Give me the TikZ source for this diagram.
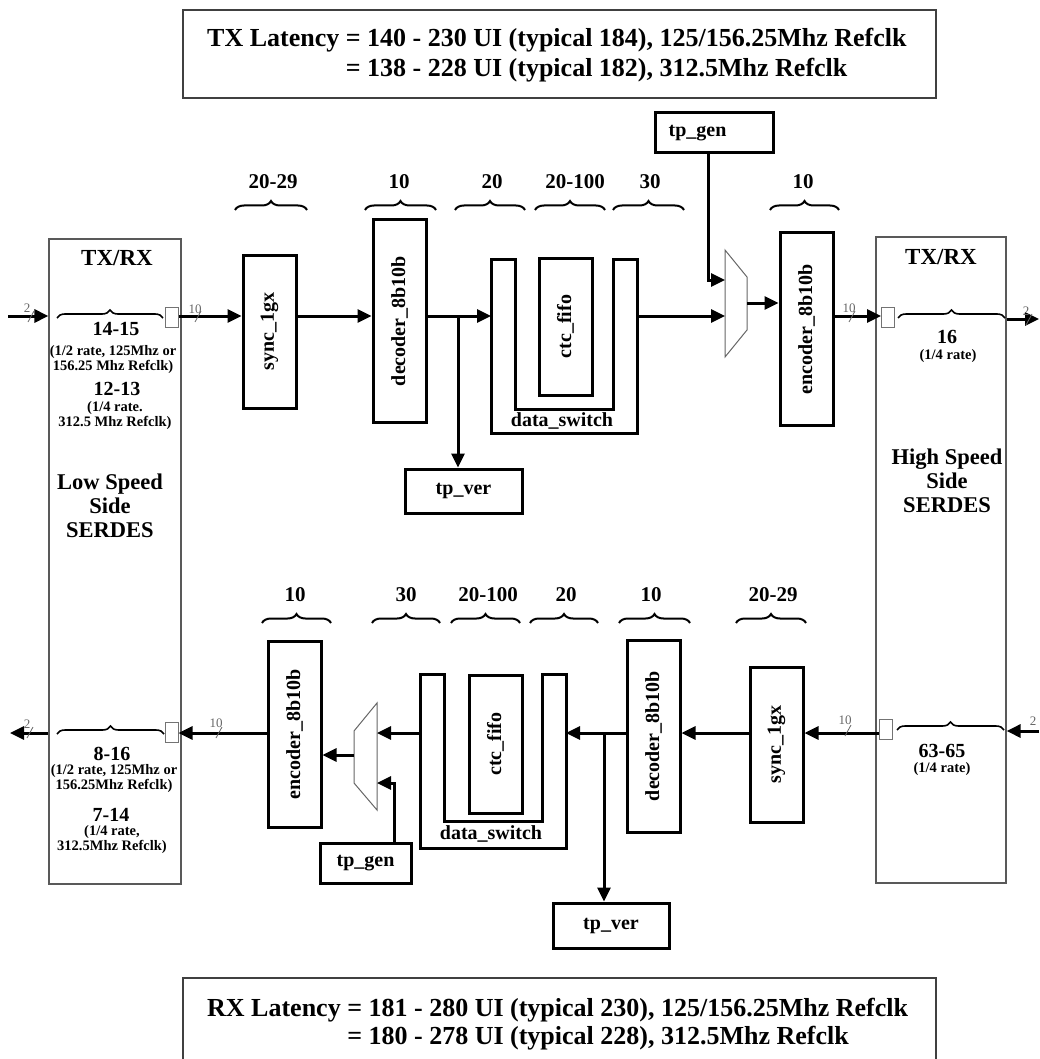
\documentclass[tikz,border=0pt]{standalone}
\usepackage{fontspec}
\setmainfont{Liberation Serif}
\usetikzlibrary{arrows.meta,decorations.pathreplacing}
\begin{document}
\begin{tikzpicture}[x=1pt,y=-1pt,
  blk/.style={draw, line width=3pt, inner sep=0pt, font=\fontsize{20}{22}\selectfont\bfseries},
  thinbox/.style={draw=black!65, line width=1.2pt, inner sep=0pt},
  titlebox/.style={draw=black!75, line width=1.2pt},
  port/.style={draw=black!55, line width=1pt, fill=white, minimum width=13, minimum height=20, inner sep=0pt},
  arr/.style={line width=3pt, -{Triangle[length=14pt,width=13pt]}},
  plainln/.style={line width=3pt},
  brc/.style={decorate, decoration={brace, amplitude=9pt}, line width=2pt},
  sbrc/.style={decorate, decoration={brace, amplitude=8pt}, line width=1.6pt},
  hdr/.style={font=\fontsize{21}{23}\selectfont\bfseries, inner sep=0pt},
  big/.style={font=\fontsize{22.5}{24}\selectfont\bfseries, inner sep=0pt, align=center},
  rng/.style={font=\fontsize{20}{21}\selectfont\bfseries, inner sep=0pt},
  sml/.style={font=\fontsize{14.5}{15}\selectfont\bfseries, inner sep=0pt, align=center},
  bus/.style={font=\fontsize{13}{14}\selectfont, text=black!60, inner sep=0pt},
  slash/.style={draw=black!60, line width=0.8pt},
  muxs/.style={draw=black!60, line width=1pt},
  ttl/.style={font=\fontsize{26}{30}\selectfont\bfseries, inner sep=0pt, align=left},
]
\useasboundingbox (0,0) rectangle (1039,1059);

% level coordinates
\coordinate (T) at (0,316);
\coordinate (B) at (0,733);

% title boxes
\node[titlebox, minimum width=753, minimum height=88, inner sep=0pt] (txbox) at (559.5,54) {};
\node[ttl, anchor=west] (txlat) at (207,55) {TX Latency = 140 - 230 UI (typical 184), 125/156.25Mhz Refclk\\\phantom{TX Latency }= 138 - 228 UI (typical 182), 312.5Mhz Refclk};
\draw[titlebox] (183,1065) -- (183,978) -- (936,978) -- (936,1065);
\node[ttl, anchor=west, font=\fontsize{26}{28}\selectfont\bfseries] (rxlat) at (207,1024) {RX Latency = 181 - 280 UI (typical 230), 125/156.25Mhz Refclk\\\phantom{RX Latency }= 180 - 278 UI (typical 228), 312.5Mhz Refclk};

% SERDES boxes
\node[thinbox, minimum width=132, minimum height=645] (lss) at (115,561.5) {};
\node[thinbox, minimum width=130, minimum height=646] (hss) at (941,560) {};

\node[big, font=\fontsize{23}{24}\selectfont\bfseries] (lsstxrx) at (117,258) {TX/RX};
\node[rng] (l1415) at (116,329) {14-15};
\node[sml] (l1415t) at (113,359.5) {(1/2 rate, 125Mhz or\\156.25 Mhz Refclk)};
\node[rng] (l1213) at (117,389) {12-13};
\node[sml] (l1213t) at (115,415.5) {(1/4 rate.\\312.5 Mhz Refclk)};
\node[big] (lssname) at (110,506) {Low Speed\\Side\\SERDES};

\node[rng] (l816) at (112,754) {8-16};
\node[sml] (l816t) at (114,779) {(1/2 rate, 125Mhz or\\156.25Mhz Refclk)};
\node[rng] (l714) at (111,815) {7-14};
\node[sml] (l714t) at (112,840) {(1/4 rate,\\312.5Mhz Refclk)};

\node[big, font=\fontsize{23}{24}\selectfont\bfseries] (hsstxrx) at (941,257) {TX/RX};
\node[rng] (h16) at (947,337) {16};
\node[sml] (h16t) at (948,356) {(1/4 rate)};
\node[big] (hssname) at (947,481) {High Speed\\Side\\SERDES};
\node[rng] (h6365) at (942,751) {63-65};
\node[sml] (h6365t) at (942,769) {(1/4 rate)};

% ports
\node[port] (lp1) at (171.5,317.5) {};
\node[port] (rp1) at (888,317) {};
\node[port] (lp2) at (171.5,732) {};
\node[port] (rp2) at (885.5,729) {};

% serdes braces
\draw[sbrc] (57,318) -- (163,318);
\draw[sbrc] (898,318) -- (1005,318);
\draw[sbrc] (57,734) -- (164,734);
\draw[sbrc] (897,730) -- (1004,730);

% ---------------- top (TX) path blocks
\node[blk, minimum width=53, minimum height=153] (sync1) at (269.5,331.5) {\rotatebox{90}{sync\_1gx}};
\node[blk, minimum width=53, minimum height=202] (dec1) at (399.5,321) {\rotatebox{90}{decoder\_8b10b}};
\node[blk, minimum width=53, minimum height=137] (ctc1) at (565.5,326.5) {\rotatebox{90}{ctc\_fifo}};
\node[blk, minimum width=53, minimum height=192] (enc1) at (806.5,329) {\rotatebox{90}{encoder\_8b10b}};
\node[blk, minimum width=117, minimum height=44] (tpver1) at (463.5,491) {tp\_ver};
\node[blk, minimum width=118, minimum height=40] (tpgen1) at (714,133) {tp\_gen\hspace*{33pt}};
\draw[plainln] (491,259) -- (491,433) -- (637,433) -- (637,259) -- (613,259) -- (613,409) -- (515,409) -- (515,259) -- cycle;
\node[blk, draw=none] (ds1) at (562,421) {data\_switch};
\draw[muxs] (725,250) -- (747,277) -- (747,330) -- (725,357) -- cycle;
\coordinate (ds1L) at (491,316);
\coordinate (ds1R) at (637,316);
\coordinate (mux1a) at (725,316);
\coordinate (mux1b) at (725,280);
\coordinate (tg1) at (708,280);
\coordinate (mux1o) at (747,303);
\coordinate (br1) at (458,316);
\coordinate (lin) at (8,316);
\coordinate (rout) at (1039,319);

% top headers
\node[hdr] (h1a) at (273,182) {20-29};
\node[hdr] (h1b) at (399,182) {10};
\node[hdr] (h1c) at (492,182) {20};
\node[hdr] (h1d) at (575,182) {20-100};
\node[hdr] (h1e) at (650,182) {30};
\node[hdr] (h1f) at (803,182) {10};
\draw[brc] (235,210) -- (307,210);
\draw[brc] (365,210) -- (436,210);
\draw[brc] (455,210) -- (525,210);
\draw[brc] (535,210) -- (605,210);
\draw[brc] (613,210) -- (684,210);
\draw[brc] (770,210) -- (839,210);

% top connectors
\draw[arr] (lin) -- (lss.west |- T);
\draw[arr] (lp1.east |- T) -- (sync1.west |- T);
\draw[arr] (sync1.east |- T) -- (dec1.west |- T);
\draw[arr] (dec1.east |- T) -- (ds1L);
\draw[arr] (br1) -- (br1 |- tpver1.north);
\draw[arr] (ds1R) -- (mux1a);
\draw[arr] (tpgen1.south -| tg1) -- (tg1) -- (mux1b);
\draw[arr] (mux1o) -- (enc1.west |- mux1o);
\draw[arr] (enc1.east |- T) -- (rp1.west |- T);
\draw[arr] (hss.east |- rout) -- (rout);

% bus labels top
\node[bus] (b2a) at (27,308) {2};
\draw[slash] (28,322) -- (34,311);
\node[bus] (b10a) at (195,309) {10};
\draw[slash] (195,322) -- (201,311);
\node[bus] (b10b) at (849,308) {10};
\draw[slash] (849,322) -- (855,311);
\node[bus] (b2b) at (1026,311) {2};
\draw[slash] (1026,325) -- (1032,314);

% ---------------- bottom (RX) path blocks
\node[blk, minimum width=53, minimum height=155] (sync2) at (776.5,744.5) {\rotatebox{90}{sync\_1gx}};
\node[blk, minimum width=53, minimum height=192] (dec2) at (653.5,736) {\rotatebox{90}{decoder\_8b10b}};
\node[blk, minimum width=53, minimum height=138] (ctc2) at (495.5,744) {\rotatebox{90}{ctc\_fifo}};
\node[blk, minimum width=53, minimum height=186] (enc2) at (294.5,734) {\rotatebox{90}{encoder\_8b10b}};
\node[blk, minimum width=116, minimum height=45] (tpver2) at (611,925.5) {tp\_ver};
\node[blk, minimum width=91, minimum height=40] (tpgen2) at (365.5,863) {tp\_gen};
\draw[plainln] (420,674) -- (420,848) -- (566,848) -- (566,674) -- (542,674) -- (542,821) -- (444,821) -- (444,674) -- cycle;
\node[blk, draw=none] (ds2) at (491,834) {data\_switch};
\draw[muxs] (377,703) -- (354,731) -- (354,783) -- (377,810) -- cycle;
\coordinate (ds2L) at (420,733);
\coordinate (ds2R) at (566,733);
\coordinate (mux2a) at (377,733);
\coordinate (mux2b) at (377,783);
\coordinate (tg2) at (394,783);
\coordinate (mux2o) at (354,755);
\coordinate (br2) at (604,733);
\coordinate (rin) at (1039,731);
\coordinate (lout) at (10,733);

% bottom headers
\node[hdr] (h2a) at (295,595) {10};
\node[hdr] (h2b) at (406,595) {30};
\node[hdr] (h2c) at (488,595) {20-100};
\node[hdr] (h2d) at (566,595) {20};
\node[hdr] (h2e) at (651,595) {10};
\node[hdr] (h2f) at (773,595) {20-29};
\draw[brc] (262,623) -- (331,623);
\draw[brc] (372,623) -- (440,623);
\draw[brc] (451,623) -- (520,623);
\draw[brc] (530,623) -- (598,623);
\draw[brc] (619,623) -- (690,623);
\draw[brc] (736,623) -- (806,623);

% bottom connectors
\draw[arr] (rin) -- (hss.east |- rin);
\draw[arr] (rp2.west |- B) -- (sync2.east |- B);
\draw[arr] (sync2.west |- B) -- (dec2.east |- B);
\draw[arr] (dec2.west |- B) -- (ds2R);
\draw[arr] (br2) -- (br2 |- tpver2.north);
\draw[arr] (ds2L) -- (mux2a);
\draw[arr] (tpgen2.north -| tg2) -- (tg2) -- (mux2b);
\draw[arr] (mux2o) -- (enc2.east |- mux2o);
\draw[arr] (enc2.west |- B) -- (lp2.east |- B);
\draw[arr] (lss.west |- B) -- (lout);

% bus labels bottom
\node[bus] (b2c) at (27,724) {2};
\draw[slash] (27,738) -- (33,727);
\node[bus] (b10c) at (216,723) {10};
\draw[slash] (216,738) -- (222,727);
\node[bus] (b10d) at (845,720) {10};
\draw[slash] (845,736) -- (851,725);
\node[bus] (b2d) at (1033,721) {2};
\end{tikzpicture}
\end{document}
